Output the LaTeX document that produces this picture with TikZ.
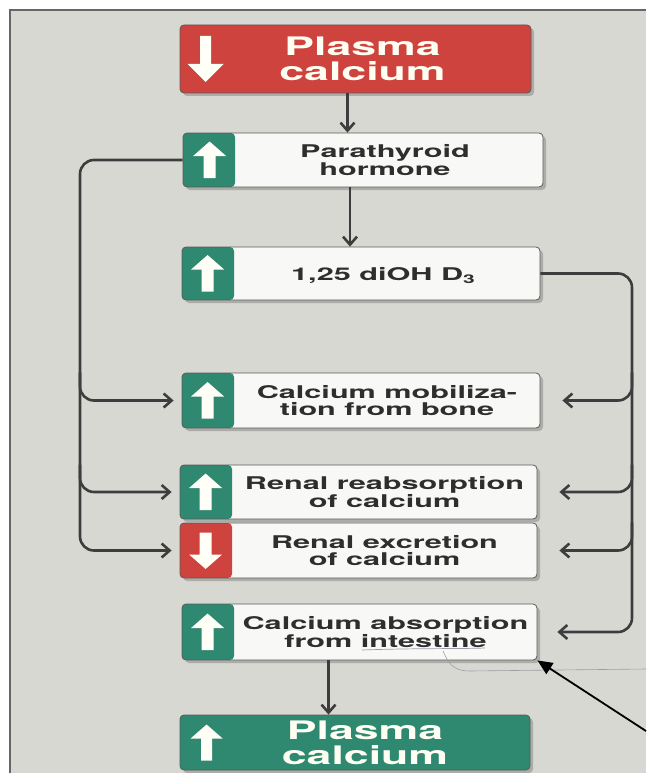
\documentclass[tikz,border=0pt]{standalone}
\usepackage{fontspec}
\newfontfamily\lbl{TeX Gyre Heros}[FakeStretch=1.75]
\newfontfamily\biglbl{TeX Gyre Heros}[FakeStretch=1.75]
\usetikzlibrary{arrows.meta,shadows,calc}
\definecolor{panel}{HTML}{D8D8D2}
\definecolor{cred}{HTML}{CF433F}
\definecolor{cgreen}{HTML}{2F8870}
\definecolor{boxw}{HTML}{F8F8F6}
\definecolor{conn}{HTML}{3D3D3D}
\definecolor{txt}{HTML}{2E2E2E}
\definecolor{pen}{HTML}{9A9EA6}
\tikzset{
  box/.style={draw=black!65, line width=0.8pt, rounded corners=4pt, inner sep=0pt,
    drop shadow={shadow xshift=3pt, shadow yshift=-3pt, opacity=0.2, fill=black}},
  whitebox/.style={box, fill=boxw},
  gtab/.style={path picture={\fill[cgreen] (path picture bounding box.north west) rectangle ([xshift=52pt]path picture bounding box.south west);}},
  rtab/.style={path picture={\fill[cred] (path picture bounding box.north west) rectangle ([xshift=52pt]path picture bounding box.south west);}},
  redbig/.style={box, fill=cred},
  greenbig/.style={box, fill=cgreen},
  smalltxt/.style={align=center, text=txt, inner sep=0pt, font=\lbl\bfseries\fontsize{17.5}{16.5}\selectfont},
  bigtxt/.style={align=center, text=white!95!yellow, inner sep=0pt, font=\biglbl\bfseries\fontsize{25.5}{25}\selectfont},
  conn/.style={draw=conn, line width=2.6pt},
  arr/.style={conn, -{Straight Barb[length=8pt,width=14pt]}},
  uparr/.pic={\fill[white!97!yellow] (0,-18.5) -- (16.5,-4) -- (6,-4) -- (6,18) -- (-6,18) -- (-6,-4) -- (-16.5,-4) -- cycle;},
  downarr/.pic={\fill[white!97!yellow] (0,18.5) -- (16.5,4) -- (6,4) -- (6,-18) -- (-6,-18) -- (-6,4) -- (-16.5,4) -- cycle;},
  bigdownarr/.pic={\fill[white!97!yellow] (0,23) -- (18,5) -- (5.5,5) -- (5.5,-23) -- (-5.5,-23) -- (-5.5,5) -- (-18,5) -- cycle;},
  bigupar/.pic={\fill[white!97!yellow] (0,-18) -- (16,-4) -- (5.5,-4) -- (5.5,18) -- (-5.5,18) -- (-5.5,-4) -- (-16,-4) -- cycle;}
}
\begin{document}
\begin{tikzpicture}[x=1pt,y=-1pt]
\useasboundingbox (0,0) rectangle (646,773);
\fill[white] (0,0) rectangle (646,773);
\fill[panel] (10,10) rectangle (646,773);
\draw[black!60, line width=1.2pt] (10,773) -- (10,10) -- (646,10);

% boxes
\node[redbig, minimum width=351pt, minimum height=68pt] (top) at (355.5,59) {};
\node[whitebox, gtab, minimum width=360pt, minimum height=54pt] (pth) at (363,160) {};
\node[whitebox, gtab, minimum width=358pt, minimum height=53pt] (d3) at (361,273.5) {};
\node[whitebox, gtab, minimum width=358pt, minimum height=55pt] (mob) at (361,400.5) {};
\node[whitebox, gtab, minimum width=357pt, minimum height=54pt] (reab) at (358.5,492) {};
\node[whitebox, rtab, minimum width=357pt, minimum height=55pt] (exc) at (358.5,550.5) {};
\node[whitebox, gtab, minimum width=355pt, minimum height=56pt] (abs) at (359.5,632) {};
\node[greenbig, minimum width=350pt, minimum height=55pt] (bot) at (355,742.5) {};

% tab arrows
\pic at ([xshift=26pt]top.west) {bigdownarr};
\pic at ([xshift=27pt]pth.west) {uparr};
\pic at ([xshift=26pt]d3.west) {uparr};
\pic at ([xshift=26pt]mob.west) {uparr};
\pic at ([xshift=26pt]reab.west) {uparr};
\pic at ([xshift=26pt]exc.west) {downarr};
\pic at ([xshift=26pt]abs.west) {uparr};
\pic at ([xshift=27pt]bot.west) {bigupar};

% texts
\node[bigtxt] (topT) at ($(top.center)+(7,0)$) {Plasma\\calcium};
\node[smalltxt] (pthT) at ($(pth.center)+(22,0)$) {Parathyroid\\hormone};
\node[smalltxt] (d3T) at ($(d3.center)+(22,2)$) {1,25 diOH D\raisebox{-0.35ex}{\fontsize{12}{12}\selectfont 3}};
\node[smalltxt] (mobT) at ($(mob.center)+(26,0)$) {Calcium mobiliza-\\tion from bone};
\node[smalltxt] (reabT) at ($(reab.center)+(26,0)$) {Renal reabsorption\\of calcium};
\node[smalltxt] (excT) at ($(exc.center)+(26,0)$) {Renal excretion\\of calcium};
\node[smalltxt] (absT) at ($(abs.center)+(26,0)$) {Calcium absorption\\from intestine};
\node[bigtxt] (botT) at ($(bot.center)+(10,0)$) {Plasma\\calcium};

% vertical flow
\draw[arr] ([xshift=-8pt]top.south) -- ([xshift=-8pt]top.south |- pth.north);
\draw[arr] ([xshift=-13pt]pth.south) -- ([xshift=-13pt]pth.south |- d3.north);
\draw[arr] ([xshift=-31pt]abs.south) -- ([xshift=-31pt]abs.south |- bot.north);

% left bracket (PTH)
\coordinate (lx) at (80,0);
\draw[arr, rounded corners=14pt] (pth.west) -| (lx |- exc.west) -- ([xshift=-8pt]exc.west);
\draw[arr, rounded corners=14pt] (lx |- mob.north) -- (lx |- mob.west) -- ([xshift=-8pt]mob.west);
\draw[arr, rounded corners=14pt] (lx |- reab.north) -- (lx |- reab.west) -- ([xshift=-8pt]reab.west);

% right bracket (D3)
\coordinate (rx) at (632,0);
\draw[arr, rounded corners=14pt] (d3.east) -| (rx |- abs.east) -- ([xshift=20pt]abs.east);
\draw[arr, rounded corners=14pt] (rx |- mob.north) -- (rx |- mob.west) -- ([xshift=22pt]mob.east);
\draw[arr, rounded corners=14pt] (rx |- reab.north) -- (rx |- reab.west) -- ([xshift=22pt]reab.east);
\draw[arr, rounded corners=14pt] (rx |- exc.north) -- (rx |- exc.west) -- ([xshift=22pt]exc.east);

% pen marks
\draw[pen, line width=0.7pt] (362,650) .. controls (420,648) and (460,649) .. (485,648);
\draw[pen, line width=0.6pt] (443,651) .. controls (448,662) and (452,671) .. (470,671) -- (646,669);

% black pointer arrow
\coordinate (tail) at (646,731);
\draw[black, line width=1.8pt, -{Triangle[length=15pt,width=13pt]}] (tail) -- (abs.south east);
\end{tikzpicture}
\end{document}
